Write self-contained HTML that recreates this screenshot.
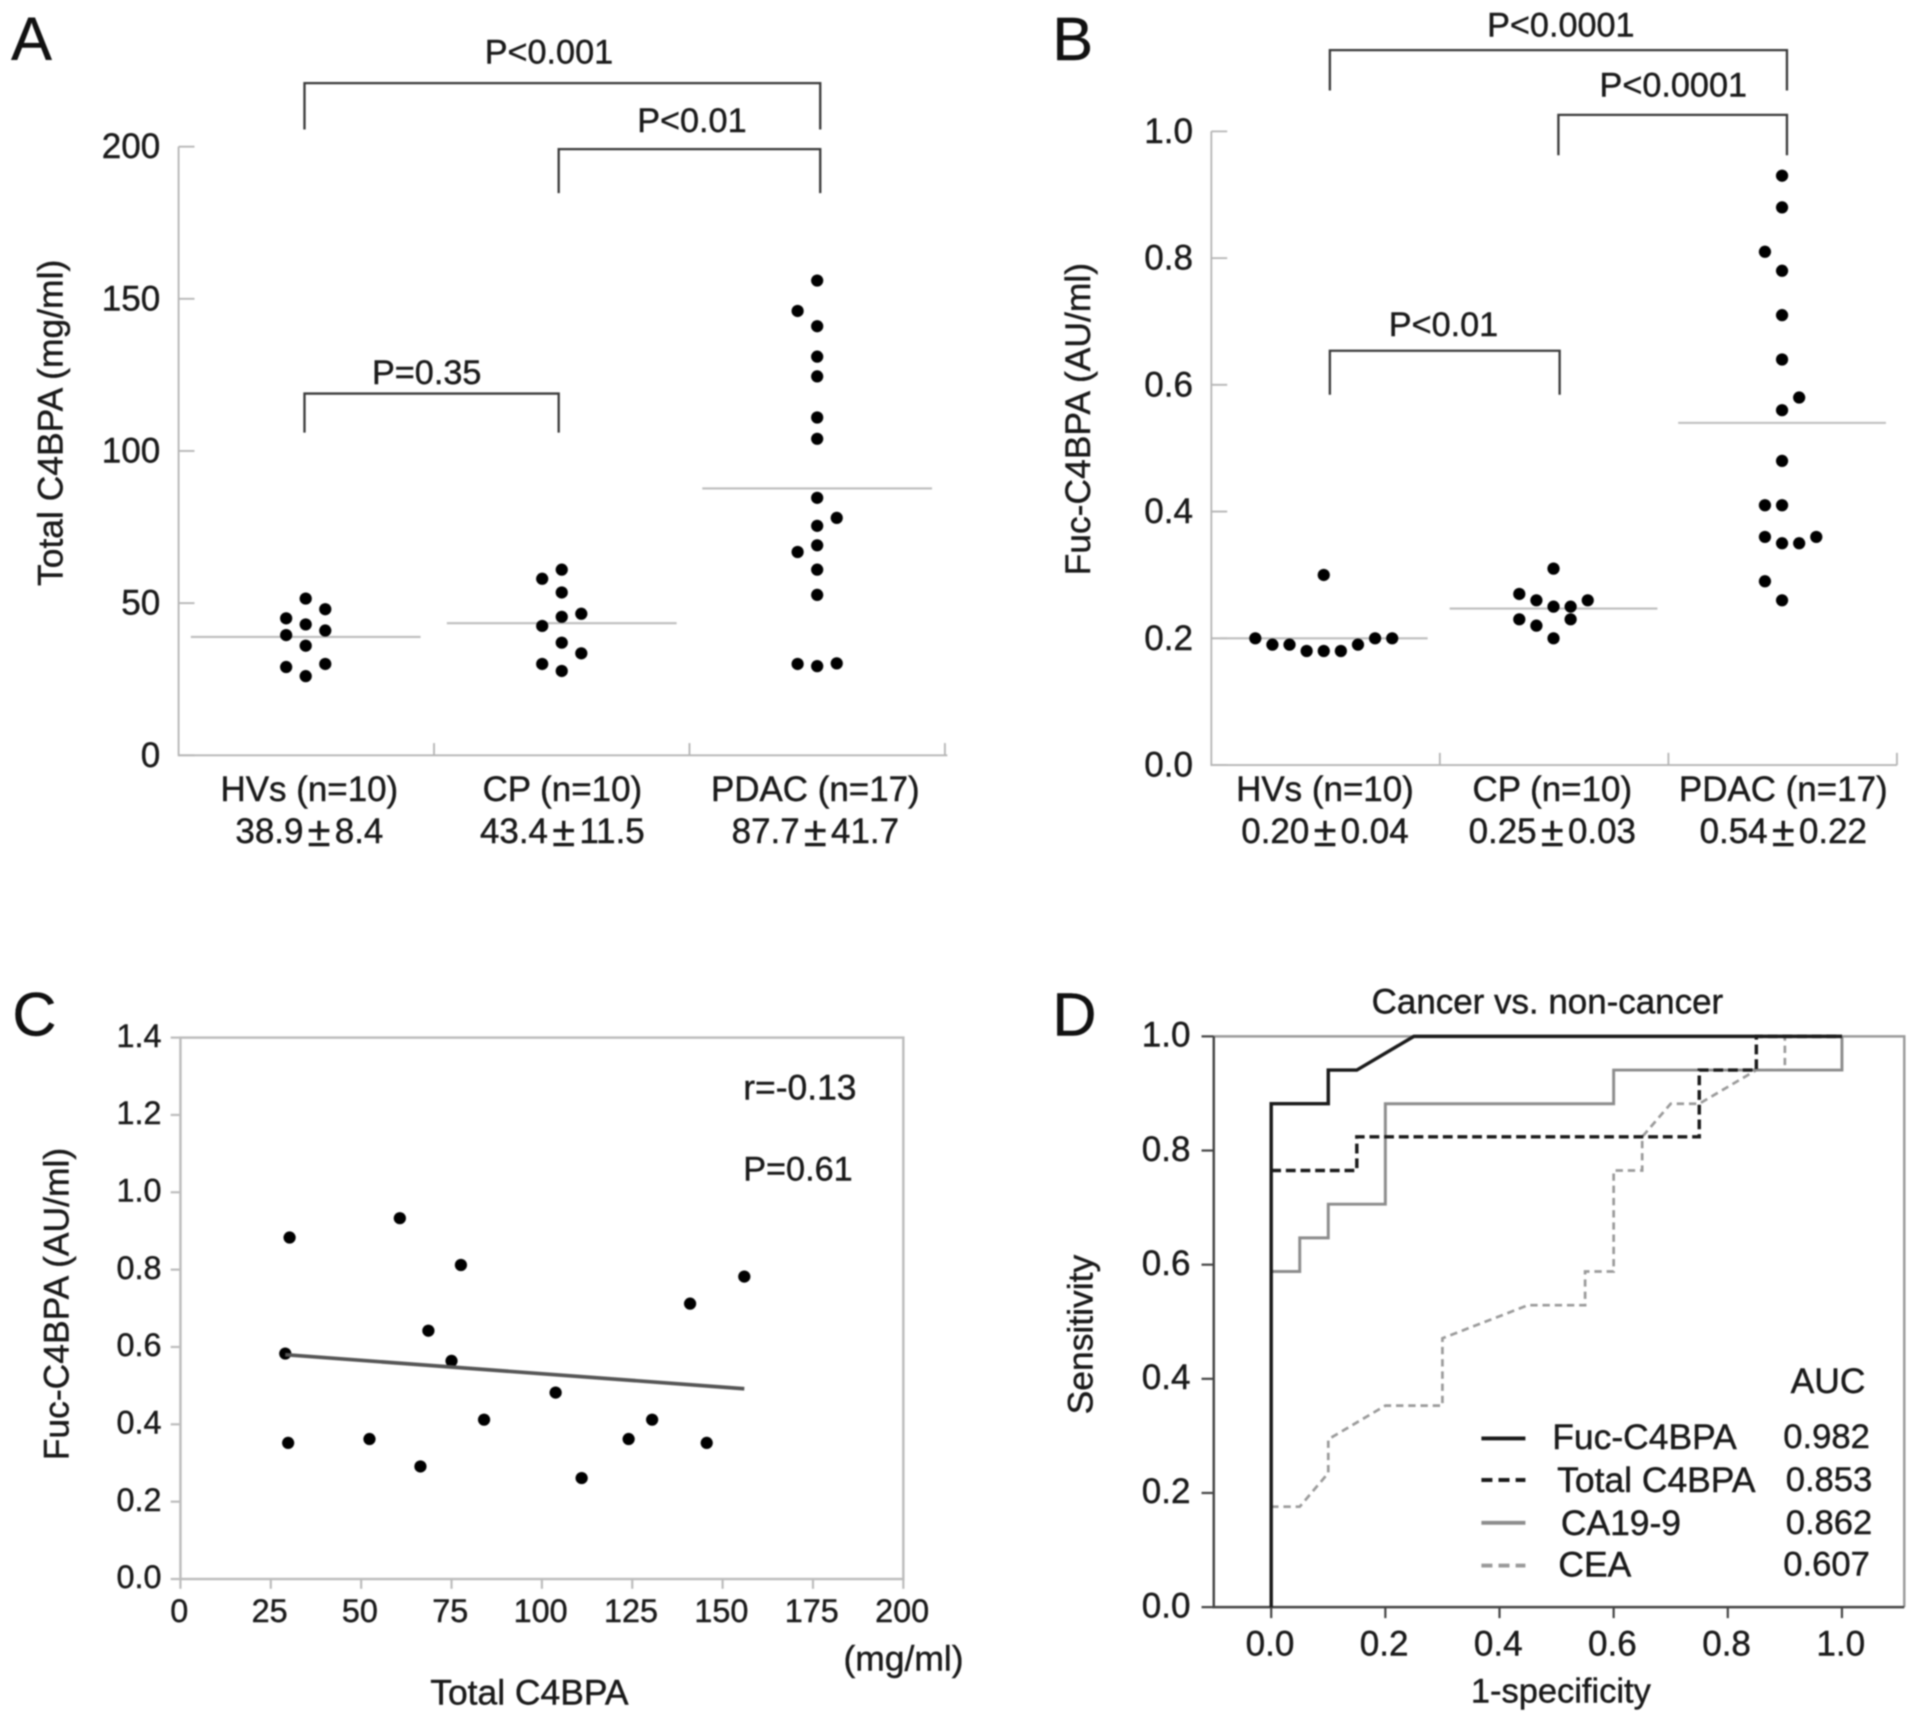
<!DOCTYPE html>
<html lang="en">
<head>
<meta charset="utf-8">
<title>C4BPA panels</title>
<style>
html,body{margin:0;padding:0;background:#fff;}
body{width:1913px;height:1722px;overflow:hidden;}
svg{display:block;filter:blur(0.7px);}
text{font-family:"Liberation Sans",sans-serif;fill:#1a1a1a;stroke:#1a1a1a;stroke-width:0.35px;dominant-baseline:central;}
.br{fill:none;stroke:#3a3a3a;stroke-width:1.9;}
.letter{font-size:50px;fill:#111;}
.p{font-size:28px;text-anchor:middle;}
.tick{font-size:28.7px;}
.cat{font-size:28.6px;text-anchor:middle;}
.ax{font-size:29px;text-anchor:middle;}
.sm{font-size:26.5px;}
.note{font-size:29px;}
.leg{font-size:29px;}
.legv{font-size:28.3px;}
</style>
</head>
<body>
<svg id="fig" xmlns="http://www.w3.org/2000/svg" width="1913" height="1722" viewBox="0 0 1565 1409">
  <rect x="0" y="0" width="1565" height="1409" fill="#fff"/>

  <text class="letter" x="9" y="32">A</text>
  <text class="letter" x="861" y="32">B</text>
  <text class="letter" x="10" y="830">C</text>
  <text class="letter" x="861" y="830">D</text>

  <path class="br" d="M249 106V68H671V106"/>
  <path class="br" d="M457 158V122H671V158"/>
  <path class="br" d="M249 354V322H457V354"/>
  <text class="p" x="449" y="43">P&lt;0.001</text>
  <text class="p" x="566" y="99">P&lt;0.01</text>
  <text class="p" x="349" y="305">P=0.35</text>
  <text class="ax" transform="translate(41 346) rotate(-90)">Total C4BPA (mg/ml)</text>

  <path class="br" d="M1088 74V41H1462V74"/>
  <path class="br" d="M1275 127V94H1462V127"/>
  <path class="br" d="M1088 323V287H1276V323"/>
  <text class="p" x="1277" y="21">P&lt;0.0001</text>
  <text class="p" x="1369" y="70">P&lt;0.0001</text>
  <text class="p" x="1181" y="266">P&lt;0.01</text>
  <text class="ax" transform="translate(882 343) rotate(-90)">Fuc-C4BPA (AU/ml)</text>

  <text class="ax" transform="translate(46 1067) rotate(-90)">Fuc-C4BPA (AU/ml)</text>
  <text class="note" style="text-anchor:middle" x="433" y="1385">Total C4BPA</text>
  <text class="note" x="690" y="1357">(mg/ml)</text>
  <text class="note" x="608" y="890">r=-0.13</text>
  <text class="note" style="font-size:28px" x="608" y="957">P=0.61</text>

  <text class="ax" style="font-size:28.6px" x="1266" y="820">Cancer vs. non-cancer</text>
  <text class="ax" transform="translate(884 1092) rotate(-90)">Sensitivity</text>
  <text class="ax" style="font-size:28.2px" x="1277" y="1384">1-specificity</text>

  <g id="a"></g>
  <g id="b"></g>
  <g id="c"></g>
  <g id="d"></g>

  <g>
    <text class="leg" x="1465" y="1130">AUC</text>
    <line x1="1212" x2="1248" y1="1177" y2="1177" stroke="#1a1a1a" stroke-width="3.2"/>
    <text class="leg" x="1270" y="1176">Fuc-C4BPA</text>
    <text class="legv" x="1459" y="1176">0.982</text>
    <line x1="1212" x2="1248" y1="1211" y2="1211" stroke="#1a1a1a" stroke-width="3.2" stroke-dasharray="9 5"/>
    <text class="leg" x="1274" y="1211">Total C4BPA</text>
    <text class="legv" x="1461" y="1211">0.853</text>
    <line x1="1212" x2="1248" y1="1246" y2="1246" stroke="#8c8c8c" stroke-width="3.2"/>
    <text class="leg" x="1277" y="1246">CA19-9</text>
    <text class="legv" x="1461" y="1246">0.862</text>
    <line x1="1212" x2="1248" y1="1281" y2="1281" stroke="#9a9a9a" stroke-width="3.2" stroke-dasharray="9 5"/>
    <text class="leg" x="1275" y="1280">CEA</text>
    <text class="legv" x="1459" y="1280">0.607</text>
  </g>
</svg>

<script>
/* ---------- Panel A data ---------- */
const aTicks = [0, 50, 100, 150, 200];
const aNames = ['HVs (n=10)', 'CP (n=10)', 'PDAC (n=17)'];
const aStats = ['38.9 ± 8.4', '43.4 ± 11.5', '87.7 ± 41.7'];
const aMeans = [38.9, 43.4, 87.7];
const aHv = [51.5, 48, 45, 43, 41, 39.5, 36, 30, 29, 26];
const aHvCol = [0, 1, -1, 0, 1, -1, 0, 1, -1, 0];
const aCp = [61, 58, 53.5, 46.5, 45.5, 42.5, 37, 33.5, 30, 27.7];
const aCpCol = [0, -1, 0, 1, 0, -1, 0, 1, -1, 0];
const aPdac = [156, 146, 141, 131, 124.5, 111, 104, 84.6, 78, 75.4, 69, 66.8, 61, 52.7, 30, 29.3, 30.2];
const aPdacCol = [0, -1, 0, 0, 0, 0, 0, 0, 1, 0, 0, -1, 0, 0, -1, 0, 1];

/* ---------- Panel B data ---------- */
const bTicks = [0, 0.2, 0.4, 0.6, 0.8, 1];
const bNames = ['HVs (n=10)', 'CP (n=10)', 'PDAC (n=17)'];
const bStats = ['0.20 ± 0.04', '0.25 ± 0.03', '0.54 ± 0.22'];
const bMeans = [0.2, 0.247, 0.54];
const bHv = [0.3, 0.2, 0.19, 0.19, 0.18, 0.18, 0.18, 0.19, 0.2, 0.2];
const bHvCol = [0, -4, -3, -2, -1, 0, 1, 2, 3, 4];
const bCp = [0.31, 0.27, 0.26, 0.25, 0.25, 0.26, 0.23, 0.22, 0.23, 0.2];
const bCpCol = [0, -2, -1, 0, 1, 2, -2, -1, 1, 0];
const bPdac = [0.93, 0.88, 0.81, 0.78, 0.71, 0.64, 0.58, 0.56, 0.48, 0.41, 0.41, 0.36, 0.35, 0.35, 0.36, 0.29, 0.26];
const bPdacCol = [0, 0, -1, 0, 0, 0, 1, 0, 0, -1, 0, -1, 0, 1, 2, -1, 0];

/* ---------- Panel C data ---------- */
const cXTicks = [0, 25, 50, 75, 100, 125, 150, 175, 200];
const cYTicks = [0, 0.2, 0.4, 0.6, 0.8, 1, 1.2, 1.4];
const cTotal = [30.2, 60.7, 77.6, 156, 141, 68.6, 29, 75, 103.8, 84, 130.5, 52.3, 124, 29.8, 145.6, 66.4, 111];
const cFuc = [0.883, 0.933, 0.812, 0.782, 0.712, 0.642, 0.583, 0.564, 0.482, 0.412, 0.412, 0.362, 0.362, 0.352, 0.352, 0.291, 0.261];
const cTrendX = [29, 156];
const cTrendY = [0.58, 0.492];

/* ---------- Panel D data ---------- */
const dTicks = [0, 0.2, 0.4, 0.6, 0.8, 1];
const cea1Spec = [0, 0.05, 0.1, 0.1, 0.2, 0.3, 0.3, 0.45, 0.55, 0.55, 0.6, 0.6, 0.65, 0.65, 0.7, 0.75, 0.85, 0.9, 0.9, 1];
const ceaSens = [0.176, 0.176, 0.235, 0.294, 0.353, 0.353, 0.471, 0.529, 0.529, 0.588, 0.588, 0.765, 0.765, 0.824, 0.882, 0.882, 0.941, 0.941, 1, 1];
const ca1Spec = [0, 0.05, 0.05, 0.1, 0.1, 0.2, 0.2, 0.6, 0.6, 1, 1];
const caSens = [0.588, 0.588, 0.647, 0.647, 0.706, 0.706, 0.882, 0.882, 0.941, 0.941, 1];
const total1Spec = [0, 0.15, 0.15, 0.75, 0.75, 0.85, 0.85, 1];
const totalSens = [0.765, 0.765, 0.824, 0.824, 0.941, 0.941, 1, 1];
const fuc1Spec = [0, 0, 0.1, 0.1, 0.15, 0.25, 1];
const fucSens = [0, 0.882, 0.882, 0.941, 0.941, 1, 1];

const NS = 'http://www.w3.org/2000/svg';
function mk(parent, tag, props, txt) {
  const e = document.createElementNS(NS, tag);
  for (const k in props) e.setAttribute(k, props[k]);
  if (txt !== undefined) e.textContent = txt;
  parent.appendChild(e);
  return e;
}
const AXC = '#b5b5b5';

/* dot-plot panels A and B */
function dotPanel(id, o) {
  const g = document.getElementById(id);
  const y = v => o.y0 - v / o.max * (o.y0 - o.y1);
  const axis = mk(g, 'path', {d: 'M' + o.x0 + ' ' + y(o.max) + 'V' + o.y0 + 'H' + o.x1, fill: 'none', stroke: AXC, 'stroke-width': 1.5});
  
  
  o.ticks.forEach(t => {
    const m = mk(g, 'line', {x1: o.x0, x2: o.x0 + 13, y1: y(t), y2: y(t), stroke: AXC, 'stroke-width': 1.5});
    
    
    const l = mk(g, 'text', {class: 'tick', x: o.x0 - 15, y: y(t), 'text-anchor': 'end'}, o.dec ? t.toFixed(1) : t);
    
    
  });
  o.dividers.forEach(x => {
    const m = mk(g, 'line', {x1: x, x2: x, y1: o.y0 - 10, y2: o.y0, stroke: AXC, 'stroke-width': 1.5});
    
    
  });
  o.groups.forEach((grp, i) => {
    const cx = o.centers[i];
    const mean = mk(g, 'line', {x1: cx - o.hw, x2: cx + o.hw, y1: y(o.means[i]), y2: y(o.means[i]), stroke: '#bdbdbd', 'stroke-width': 1.7});
    
    
    grp.vals.forEach((v, j) => {
      const c = mk(g, 'circle', {cx: cx + grp.cols[j] * o.step, cy: y(v), r: 5, fill: '#000'});
      
      
    });
    const n = mk(g, 'text', {class: 'cat', x: o.labelX[i], y: 646}, o.names[i]);
    
    
    const parts = o.stats[i].split(' ± ');
    const s = mk(g, 'text', {class: 'cat', x: o.labelX[i], y: 680});
    
    
    mk(s, 'tspan', {}, parts[0]);
    mk(s, 'tspan', {dx: 3.5, 'font-size': 34}, '±');
    mk(s, 'tspan', {dx: 3.5}, parts[1]);
  });
}

dotPanel('a', {
  x0: 146, x1: 775, y0: 618, y1: 120, max: 200, ticks: aTicks, dec: false,
  dividers: [355, 564, 773], centers: [250, 459.5, 668.5], labelX: [253, 460, 667], step: 16, hw: 94,
  means: aMeans, names: aNames, stats: aStats,
  groups: [{vals: aHv, cols: aHvCol}, {vals: aCp, cols: aCpCol}, {vals: aPdac, cols: aPdacCol}]
});
dotPanel('b', {
  x0: 991, x1: 1552, y0: 626, y1: 107.5, max: 1, ticks: bTicks, dec: true,
  dividers: [1178, 1365, 1552], centers: [1083, 1271, 1458], labelX: [1084, 1270, 1459], step: 14, hw: 85,
  means: bMeans, names: bNames, stats: bStats,
  groups: [{vals: bHv, cols: bHvCol}, {vals: bCp, cols: bCpCol}, {vals: bPdac, cols: bPdacCol}]
});

/* panel C scatter */
(function () {
  const g = document.getElementById('c');
  const x = v => 147.5 + v / 200 * (739 - 147.5);
  const y = v => 1292 - v / 1.4 * (1292 - 849);
  const f = mk(g, 'rect', {x: x(0), y: y(1.4), width: x(200) - x(0), height: y(0) - y(1.4), fill: 'none', stroke: '#bcbcbc', 'stroke-width': 2});
  
  
  cXTicks.forEach(t => {
    const m = mk(g, 'line', {x1: x(t), x2: x(t), y1: y(0), y2: y(0) + 8, stroke: '#bcbcbc', 'stroke-width': 1.8});
    
    
    const l = mk(g, 'text', {class: 'sm', x: x(t) - 1, y: 1318, 'text-anchor': 'middle'}, t);
    
    
  });
  cYTicks.forEach(t => {
    const m = mk(g, 'line', {x1: x(0) - 8, x2: x(0), y1: y(t), y2: y(t), stroke: '#bcbcbc', 'stroke-width': 1.8});
    
    
    const l = mk(g, 'text', {class: 'sm', x: 132, y: y(t) - 1.5, 'text-anchor': 'end'}, t.toFixed(1));
    
    
  });
  cTotal.forEach((v, i) => {
    const c = mk(g, 'circle', {cx: x(v), cy: y(cFuc[i]), r: 5, fill: '#000'});
    
    
  });
  const t = mk(g, 'line', {x1: x(cTrendX[0]), x2: x(cTrendX[1]), y1: y(cTrendY[0]), y2: y(cTrendY[1]), stroke: '#555', 'stroke-width': 3});
  
  
})();

/* panel D ROC */
(function () {
  const g = document.getElementById('d');
  const x = v => 1040 + v * (1507 - 1040);
  const y = v => 1315 - v * (1315 - 848);
  const fr1 = mk(g, 'path', {d: 'M993 848H1558V1315', fill: 'none', stroke: '#9a9a9a', 'stroke-width': 2});
  
  
  const fr2 = mk(g, 'path', {d: 'M993 848V1315H1558', fill: 'none', stroke: '#444', 'stroke-width': 2});
  
  
  dTicks.forEach(t => {
    const m = mk(g, 'line', {x1: 983, x2: 993, y1: y(t), y2: y(t), stroke: '#444', 'stroke-width': 1.8});
    
    
    const l = mk(g, 'text', {class: 'tick', x: 974, y: y(t) - 1, 'text-anchor': 'end'}, t.toFixed(1));
    
    
    const mx = mk(g, 'line', {x1: x(t), x2: x(t), y1: 1315, y2: 1324, stroke: '#444', 'stroke-width': 1.8});
    
    
    const lx = mk(g, 'text', {class: 'tick', x: x(t) - 1, y: 1345, 'text-anchor': 'middle'}, t.toFixed(1));
    
    
  });
  const pathOf = (xs, ys) => xs.map((v, i) => (i ? 'L' : 'M') + x(v) + ' ' + y(ys[i])).join('');
  const cea = mk(g, 'path', {d: pathOf(cea1Spec, ceaSens), fill: 'none', stroke: '#9a9a9a', 'stroke-width': 2.2, 'stroke-dasharray': '6 4'});
  
  
  const ca = mk(g, 'path', {d: pathOf(ca1Spec, caSens), fill: 'none', stroke: '#8c8c8c', 'stroke-width': 2.4});
  
  
  const tot = mk(g, 'path', {d: pathOf(total1Spec, totalSens), fill: 'none', stroke: '#1a1a1a', 'stroke-width': 2.8, 'stroke-dasharray': '8 4'});
  
  
  const fuc = mk(g, 'path', {d: pathOf(fuc1Spec, fucSens), fill: 'none', stroke: '#1a1a1a', 'stroke-width': 2.8});
  
  
})();
</script>
</body>
</html>
